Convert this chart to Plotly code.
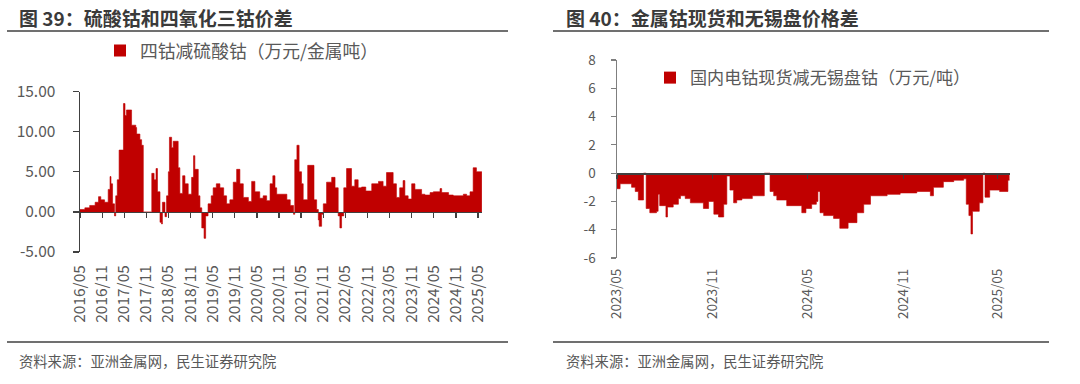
import plotly.graph_objects as go

# ---------------- data ----------------
# 图39: 四钴减硫酸钴（万元/金属吨） — step change dates and values
left_dates = [
    "2016-05-01", "2016-06-10", "2016-07-20", "2016-09-03", "2016-10-01", "2016-10-20",
    "2016-11-20", "2016-12-20", "2017-01-04", "2017-01-12", "2017-01-25", "2017-02-10",
    "2017-02-20", "2017-03-05", "2017-03-20", "2017-04-25", "2017-05-08", "2017-05-20",
    "2017-07-01", "2017-08-05", "2017-08-12", "2017-09-08", "2017-09-22", "2017-10-06",
    "2017-12-15", "2018-01-03", "2018-01-19", "2018-01-31", "2018-02-21", "2018-03-05",
    "2018-03-13", "2018-04-03", "2018-04-16", "2018-05-01", "2018-05-10", "2018-05-28",
    "2018-06-10", "2018-07-21", "2018-08-04", "2018-08-27", "2018-09-15", "2018-10-12",
    "2018-11-09", "2018-11-25", "2018-12-06", "2019-01-03", "2019-01-17", "2019-02-01",
    "2019-02-20", "2019-03-05", "2019-03-25", "2019-04-20", "2019-05-06", "2019-06-01",
    "2019-07-01", "2019-08-01", "2019-08-25", "2019-09-21", "2019-10-19", "2019-11-16",
    "2019-12-13", "2020-01-10", "2020-02-21", "2020-03-19", "2020-04-15", "2020-05-25",
    "2020-06-22", "2020-07-21", "2020-08-18", "2020-09-10", "2020-09-28", "2020-10-12",
    "2021-01-04", "2021-02-01", "2021-02-28", "2021-03-10", "2021-03-28", "2021-04-15",
    "2021-05-05", "2021-05-19", "2021-06-25", "2021-08-16", "2021-09-07", "2021-09-21",
    "2021-09-28", "2021-10-18", "2021-11-01", "2021-11-28", "2022-01-09", "2022-02-06",
    "2022-03-04", "2022-03-18", "2022-04-01", "2022-04-19", "2022-05-12", "2022-06-22",
    "2022-07-19", "2022-08-16", "2022-09-13", "2022-10-18", "2022-12-06", "2023-01-31",
    "2023-03-10", "2023-04-07", "2023-06-01", "2023-06-28", "2023-07-25", "2023-08-22",
    "2023-09-06", "2023-10-03", "2023-11-01", "2023-11-28", "2024-01-22", "2024-02-18",
    "2024-04-01", "2024-04-28", "2024-06-22", "2024-07-06", "2024-09-01", "2024-10-10",
    "2025-01-01", "2025-01-28", "2025-02-25", "2025-03-23", "2025-04-19", "2025-06-03",
]
left_values = [
    0.3, 0.5, 0.8, 1.2, 1.9, 1.5,
    1.2, 2.8, 4.4, 3.5, 1.0, -0.5,
    2.0, 4.0, 7.7, 13.5, 12.0, 12.7,
    10.8, 10.5, 9.7, 9.0, 8.3, 0.0,
    4.8, 4.0, 5.4, 2.5, -1.3, -1.5,
    1.2, -0.6, 2.0, 5.0, 9.3, 8.0,
    8.8, 5.5, 2.3, 4.5, 3.5, 2.2,
    4.3, 7.0, 5.3, 2.0, 0.5, -2.0,
    -3.3, -0.5, 1.0, 2.0, 3.0, 3.5,
    3.0, 2.0, 1.0, 1.5, 3.7, 5.3,
    3.5, 1.8, 1.3, 3.8, 2.5, 1.7,
    2.0, 1.4, 3.5, 4.5, 3.0, 2.2,
    1.5, 0.8, -0.3, 6.5, 8.3, 5.0,
    3.5, 1.5, 5.8, 1.5, 0.3, -1.0,
    -1.8, -0.3, 1.0, 3.7, 4.3, 3.0,
    -0.5, -2.0, -0.5, 3.0, 5.4, 3.2,
    4.0, 3.0, 3.1, 2.6, 3.5, 3.8,
    3.2, 4.9, 3.5, 1.8, 3.0, 3.9,
    2.0, 1.6, 3.5, 2.8, 2.2, 2.1,
    2.4, 2.5, 2.9, 2.4, 2.1, 2.0,
    2.2, 2.0, 2.5, 5.5, 5.0, 5.0,
]
left_name = "四钴减硫酸钴（万元/金属吨）"
left_xtick_labels = ["2016/05", "2016/11", "2017/05", "2017/11", "2018/05", "2018/11",
                     "2019/05", "2019/11", "2020/05", "2020/11", "2021/05", "2021/11",
                     "2022/05", "2022/11", "2023/05", "2023/11", "2024/05", "2024/11",
                     "2025/05"]
left_ytick_vals = [-5, 0, 5, 10, 15]
left_ytick_labels = ["-5.00", "0.00", "5.00", "10.00", "15.00"]

# 图40: 国内电钴现货减无锡盘钴（万元/吨）
right_dates = [
    "2023-05-01", "2023-05-07", "2023-05-29", "2023-06-05", "2023-06-11", "2023-06-21",
    "2023-06-26", "2023-07-03", "2023-07-16", "2023-07-19", "2023-07-22", "2023-08-03",
    "2023-08-06", "2023-08-17", "2023-08-27", "2023-08-31", "2023-09-09", "2023-09-19",
    "2023-10-14", "2023-10-24", "2023-11-03", "2023-11-12", "2023-11-22", "2023-11-28",
    "2023-12-04", "2023-12-11", "2023-12-17", "2023-12-27", "2024-01-16", "2024-02-08",
    "2024-02-19", "2024-02-26", "2024-03-03", "2024-03-22", "2024-04-20", "2024-04-28",
    "2024-05-09", "2024-05-18", "2024-05-21", "2024-05-25", "2024-06-01", "2024-06-20",
    "2024-07-02", "2024-07-18", "2024-08-04", "2024-08-17", "2024-08-30", "2024-10-01",
    "2024-10-26", "2024-11-27", "2024-12-23", "2024-12-29", "2025-01-17", "2025-02-06",
    "2025-02-25", "2025-03-02", "2025-03-07", "2025-03-11", "2025-03-14", "2025-03-27",
    "2025-04-03", "2025-04-07", "2025-04-16", "2025-05-05", "2025-05-21", "2025-05-24",
]
right_values = [
    -1.1, -0.75, -1.0, -1.3, -1.9, 0.0,
    -2.5, -2.8, -2.7, -1.5, -2.3, -3.1,
    -2.4, -2.2, -1.8, -1.6, -1.8, -2.1,
    -2.5, -2.0, -2.9, -3.1, -2.2, -0.2,
    -1.2, -2.1, -1.9, -1.8, -1.6, 0.0,
    -1.3, -1.6, -1.9, -2.3, -2.8, -2.5,
    -2.2, -2.0, -1.3, -2.8, -3.0, -3.2,
    -3.9, -3.5, -2.8, -2.2, -1.6, -1.5,
    -1.4, -1.3, -1.6, -1.0, -0.6, -0.5,
    -0.4, -2.2, -3.0, -4.3, -2.7, -2.1,
    0.0, -1.7, -1.2, -1.3, -0.5, -0.5,
]
right_name = "国内电钴现货减无锡盘钴（万元/吨）"
right_xtick_labels = ["2023/05", "2023/11", "2024/05", "2024/11", "2025/05"]
right_ytick_vals = [-6, -4, -2, 0, 2, 4, 6, 8]
right_ytick_labels = ["-6", "-4", "-2", "0", "2", "4", "6", "8"]

# ---------------- styling ----------------
W, H = 1080, 384
RED = "#C00000"
GRAY = "#595959"
DARK = "#404040"
FONT = "Noto Sans CJK SC"


def px_x(p):
    return p / W


def px_y(p):
    return 1 - p / H


def to_date(lbl):
    return lbl.replace("/", "-") + "-01"


L_RANGE_Y = [-5, 15]
R_RANGE_Y = [-6, 8]
L_DOM_Y = [px_y(252), px_y(91.5)]
R_DOM_Y = [px_y(258), px_y(60)]
L_ZERO = L_DOM_Y[0] + (0 - L_RANGE_Y[0]) / (L_RANGE_Y[1] - L_RANGE_Y[0]) * (L_DOM_Y[1] - L_DOM_Y[0])
R_ZERO = R_DOM_Y[0] + (0 - R_RANGE_Y[0]) / (R_RANGE_Y[1] - R_RANGE_Y[0]) * (R_DOM_Y[1] - R_DOM_Y[0])

L_RANGE_X = ["2016-05-01", "2025-06-04"]
R_RANGE_X = ["2023-05-01", "2025-05-25"]

fig = go.Figure()

fig.add_trace(go.Scatter(
    x=left_dates, y=left_values, mode="lines", line=dict(shape="hv", width=0.6, color=RED),
    fill="tozeroy", fillcolor=RED, xaxis="x", yaxis="y", showlegend=False, hoverinfo="x+y",
))
fig.add_trace(go.Bar(
    x=[None], y=[None], name=left_name, marker_color=RED, xaxis="x2", yaxis="y",
    legend="legend", showlegend=True,
))
fig.add_trace(go.Scatter(
    x=right_dates, y=right_values, mode="lines", line=dict(shape="hv", width=0.6, color=RED),
    fill="tozeroy", fillcolor=RED, xaxis="x3", yaxis="y2", showlegend=False, hoverinfo="x+y",
))
fig.add_trace(go.Bar(
    x=[None], y=[None], name=right_name, marker_color=RED, xaxis="x4", yaxis="y2",
    legend="legend2", showlegend=True,
))

tickfont_l = dict(family=FONT, size=15.5, color=GRAY)
tickfont_r = dict(family=FONT, size=13.5, color=GRAY)

fig.update_layout(
    template="none",
    width=W, height=H,
    margin=dict(l=0, r=0, t=0, b=0, pad=0, autoexpand=False),
    paper_bgcolor="white", plot_bgcolor="rgba(0,0,0,0)",
    font=dict(family=FONT, color=GRAY),
    bargap=0,
    xaxis=dict(
        type="date", domain=[px_x(80), px_x(482)], range=L_RANGE_X, anchor="y", automargin=False,
        tickmode="array", tickvals=[to_date(t) for t in left_xtick_labels], ticktext=left_xtick_labels,
        tickangle=-90, ticks="", showline=False, showgrid=False, zeroline=False,
        tickfont=tickfont_l, ticklabelstandoff=9,
    ),
    xaxis2=dict(
        type="date", overlaying="x", range=L_RANGE_X, anchor="free", position=L_ZERO, automargin=False,
        tickmode="array", tickvals=[to_date(t) for t in left_xtick_labels], showticklabels=False,
        ticks="outside", ticklen=5, tickwidth=1.3, tickcolor=DARK,
        showline=True, linecolor=DARK, linewidth=1.5, showgrid=False, zeroline=False,
    ),
    yaxis=dict(
        domain=L_DOM_Y, range=L_RANGE_Y, anchor="x", automargin=False,
        tickmode="array", tickvals=left_ytick_vals, ticktext=left_ytick_labels,
        ticks="outside", ticklen=6, tickwidth=1.3, tickcolor=DARK,
        showline=True, linecolor=DARK, linewidth=1.5, showgrid=False, zeroline=False,
        tickfont=tickfont_l, ticklabelstandoff=14,
    ),
    xaxis3=dict(
        type="date", domain=[px_x(617), px_x(1010)], range=R_RANGE_X, anchor="y2", automargin=False,
        tickmode="array", tickvals=[to_date(t) for t in right_xtick_labels], ticktext=right_xtick_labels,
        tickangle=-90, ticks="", showline=False, showgrid=False, zeroline=False,
        tickfont=tickfont_r, ticklabelstandoff=7,
    ),
    xaxis4=dict(
        type="date", overlaying="x3", range=R_RANGE_X, anchor="free", position=R_ZERO, automargin=False,
        tickmode="array", tickvals=[to_date(t) for t in right_xtick_labels], showticklabels=False,
        ticks="outside", ticklen=4, tickwidth=1.3, tickcolor=DARK,
        showline=True, linecolor=DARK, linewidth=1.5, showgrid=False, zeroline=False,
    ),
    yaxis2=dict(
        domain=R_DOM_Y, range=R_RANGE_Y, anchor="x3", automargin=False,
        tickmode="array", tickvals=right_ytick_vals, ticktext=right_ytick_labels,
        ticks="outside", ticklen=5, tickwidth=1.2, tickcolor="#7f7f7f",
        showline=True, linecolor="#7f7f7f", linewidth=1.5, showgrid=False, zeroline=False,
        tickfont=tickfont_r, ticklabelstandoff=12,
    ),
    legend=dict(
        x=px_x(100), y=px_y(51), xanchor="left", yanchor="middle",
        font=dict(family=FONT, size=17.8, color=GRAY), bgcolor="rgba(0,0,0,0)",
    ),
    legend2=dict(
        x=px_x(650), y=px_y(78), xanchor="left", yanchor="middle",
        font=dict(family=FONT, size=17.1, color=GRAY), bgcolor="rgba(0,0,0,0)",
    ),
)

# titles
fig.add_annotation(text="<b>图 39：硫酸钴和四氧化三钴价差</b>", x=px_x(17), y=px_y(17),
                   xref="paper", yref="paper", xanchor="left", yanchor="middle", showarrow=False,
                   font=dict(family=FONT, size=19, color="#3a3a3a"))
fig.add_annotation(text="<b>图 40：金属钴现货和无锡盘价格差</b>", x=px_x(564), y=px_y(17),
                   xref="paper", yref="paper", xanchor="left", yanchor="middle", showarrow=False,
                   font=dict(family=FONT, size=19, color="#3a3a3a"))
# sources
for sx in (17, 564):
    fig.add_annotation(text="资料来源：亚洲金属网，民生证券研究院", x=px_x(sx), y=px_y(360),
                       xref="paper", yref="paper", xanchor="left", yanchor="middle", showarrow=False,
                       font=dict(family=FONT, size=14.3, color=GRAY))

# rules
for x0, x1 in ((7, 508), (553, 1049)):
    fig.add_shape(type="line", xref="paper", yref="paper", x0=px_x(x0), x1=px_x(x1),
                  y0=px_y(31), y1=px_y(31), line=dict(color=DARK, width=1.6))
    fig.add_shape(type="line", xref="paper", yref="paper", x0=px_x(x0), x1=px_x(x1),
                  y0=px_y(342), y1=px_y(342), line=dict(color=DARK, width=1.4))

fig.write_html(
    "out.html",
    config={"displayModeBar": False, "staticPlot": True},
    post_script="document.body.style.margin='0';document.body.style.overflow='hidden';",
)
